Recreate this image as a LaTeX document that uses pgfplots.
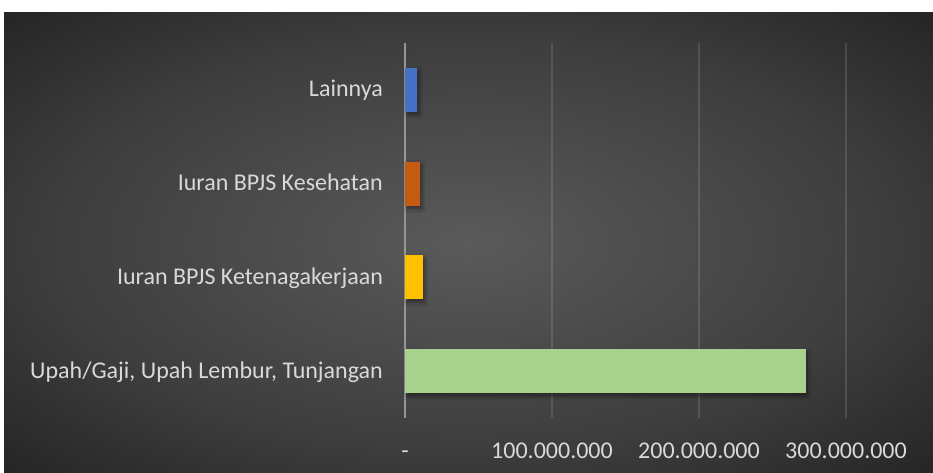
\documentclass[border=0pt]{standalone}
\usepackage{fontspec}
\setmainfont{Carlito}
\usepackage{pgfplots}
\pgfplotsset{compat=1.18}
\usetikzlibrary{shadows.blur}
\definecolor{bgA}{RGB}{90,90,90}
\definecolor{bgB}{RGB}{62,62,62}
\definecolor{bgC}{RGB}{36,36,36}
\definecolor{txt}{RGB}{217,217,217}
\definecolor{cBlue}{RGB}{68,114,196}
\definecolor{cOrange}{RGB}{197,90,17}
\definecolor{cGold}{RGB}{255,192,0}
\definecolor{cGreen}{RGB}{169,209,142}
\pgfdeclareradialshading{bgshade}{\pgfpoint{0bp}{0bp}}{%
  color(0bp)=(bgA); color(22bp)=(bgB); color(36bp)=(bgC); color(50bp)=(bgC)}
\tikzset{barshadow/.style={blur shadow={shadow xshift=2pt, shadow yshift=-3pt,
  shadow blur radius=4pt, shadow blur steps=8, shadow opacity=45}}}

\begin{document}
\begin{tikzpicture}[x=1pt,y=1pt]
\fill[white] (0,0) rectangle (933,473);
\useasboundingbox (0,0) rectangle (933,473);
\shade[shading=bgshade] (4,0) rectangle (933,460);

\begin{axis}[
    scale only axis,
    width=441pt, height=375pt,
    at={(405pt,55pt)}, anchor=south west,
    xbar, bar width=44pt, bar shift=0pt,
    xmin=0, xmax=300000000,
    ymin=-0.5, ymax=3.5,
    xtick={0,100000000,200000000,300000000},
    xticklabels={-,100.000.000,200.000.000,300.000.000},
    scaled x ticks=false,
    ytick={0,1,2,3},
    yticklabels={{Upah/Gaji, Upah Lembur, Tunjangan},{Iuran BPJS Ketenagakerjaan},{Iuran BPJS Kesehatan},{Lainnya}},
    major tick length=0pt,
    axis lines*=left,
    separate axis lines,
    x axis line style={draw=none},
    y axis line style={draw={rgb,255:red,150;green,150;blue,150}, line width=2pt, -},
    xmajorgrids,
    grid style={draw=white, opacity=0.12, line width=1.5pt},
    ticklabel style={font=\fontsize{24}{28}\selectfont, text=txt},
    xticklabel style={anchor=base, inner sep=0pt, yshift=-41pt},
    yticklabel style={anchor=base east, inner sep=0pt, xshift=-22pt, yshift=-7pt},
    clip=false,
]
\addplot[draw=none, fill=cGreen, barshadow] coordinates {(272500000,0)};
\addplot[draw=none, fill=cGold, barshadow] coordinates {(12200000,1)};
\addplot[draw=none, fill=cOrange, barshadow] coordinates {(10200000,2)};
\addplot[draw=none, fill=cBlue, barshadow] coordinates {(8200000,3)};
\end{axis}
\end{tikzpicture}
\end{document}
